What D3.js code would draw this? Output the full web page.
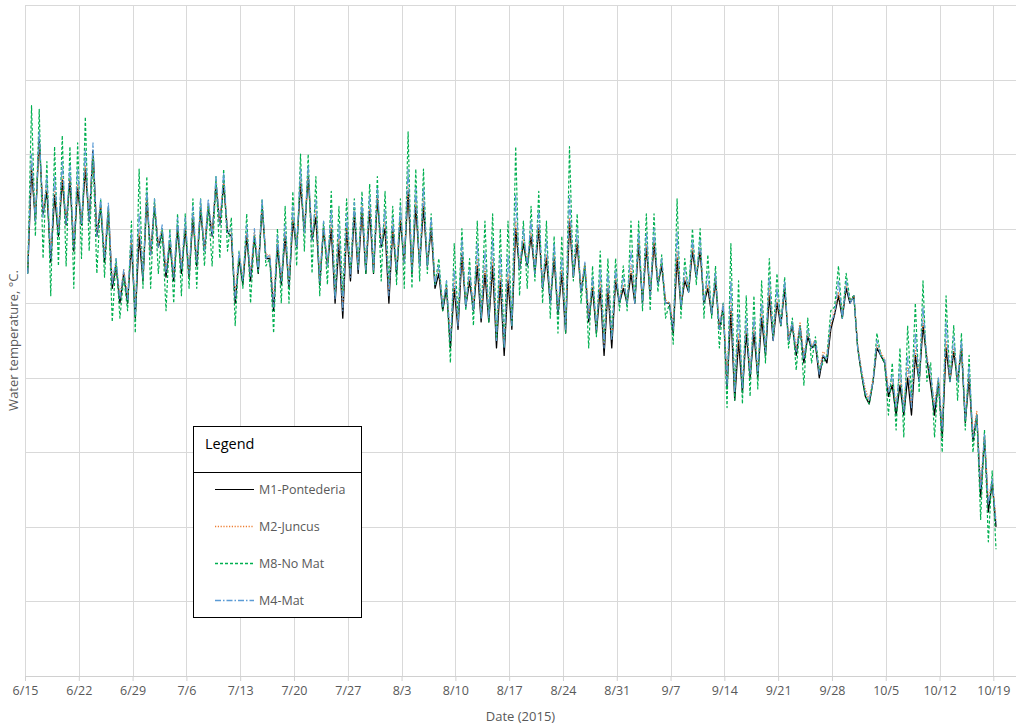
<!DOCTYPE html>
<html>
<head>
<meta charset="utf-8">
<script src="https://cdn.jsdelivr.net/npm/d3@7"></script>
<style>
  body { margin: 0; background: #fff; }
  text { font-family: "Open Sans", "Liberation Sans", sans-serif; }
</style>
</head>
<body>
<script>
// daily low / high readings, one value per day from 6/15/2015
var m1Low = [22.8,24.2,24.4,23.1,23.8,24.1,23.4,24.1,24.2,23.8,
  23.1,22.4,22.0,22.0,21.6,22.6,23.3,23.5,22.7,22.6,
  22.8,22.7,23.0,23.4,23.8,24.1,23.9,22.0,22.5,22.6,
  22.8,23.2,21.8,22.5,22.4,23.5,23.9,23.7,22.5,23.0,
  22.0,21.6,22.6,22.8,22.8,22.8,23.5,22.0,22.8,23.1,
  22.8,23.0,23.0,22.4,21.8,20.8,21.3,21.9,21.8,21.5,
  21.5,20.8,20.6,21.3,22.9,23.0,22.8,22.4,22.0,21.7,
  21.2,22.7,22.3,21.5,21.2,20.6,20.8,22.0,22.0,22.0,
  22.0,22.2,22.5,22.0,21.2,21.9,22.3,22.7,22.0,21.7,
  21.3,19.7,19.4,19.6,20.0,20.0,20.6,21.0,21.4,21.0,
  20.6,20.4,20.8,20.0,20.4,21.7,21.6,22.0,20.8,19.5,
  19.9,20.6,19.5,19.0,19.0,19.0,19.9,20.5,19.0,18.4,
  19.9,19.9,18.8,18.3,16.8,16.4,16.0];
var m1High = [25.6,26.4,25.0,24.9,25.3,25.3,25.1,25.6,26.1,24.6,
  24.5,23.0,22.8,23.6,23.8,24.8,24.6,23.9,23.6,24.0,
  24.0,24.3,24.5,24.6,25.2,25.2,23.8,23.2,23.8,23.8,
  24.6,23.2,23.5,23.8,24.2,25.2,25.4,24.3,24.0,24.0,
  23.6,24.0,24.4,24.5,24.5,24.8,24.0,24.0,24.2,25.0,
  24.6,24.6,24.0,22.8,22.4,22.4,23.3,22.6,23.0,22.8,
  23.0,22.6,22.6,24.0,23.6,23.8,24.0,23.2,23.2,22.8,
  24.2,23.6,23.0,22.4,22.4,22.4,22.6,22.4,22.8,23.6,
  23.5,23.6,23.0,22.0,23.2,22.6,23.4,23.4,22.4,22.6,
  21.9,21.8,21.0,21.2,21.2,21.6,22.2,22.0,22.4,21.4,
  21.4,21.1,20.9,20.6,21.3,22.2,22.4,22.2,20.1,19.3,
  20.8,20.4,19.8,19.8,20.0,20.6,21.4,19.8,19.9,20.8,
  20.7,20.8,20.0,19.0,18.4,17.2];

var m2Low = [23.0,24.3,24.5,23.3,24.0,24.2,23.6,24.2,24.3,23.9,
  23.3,22.6,22.2,22.2,21.9,22.8,23.4,23.6,22.9,22.8,
  23.0,22.9,23.2,23.5,23.9,24.2,24.0,22.3,22.7,22.8,
  23.0,23.3,22.1,22.7,22.6,23.6,24.0,23.8,22.7,23.1,
  22.3,21.9,22.8,23.0,23.0,23.0,23.6,22.3,23.0,23.2,
  23.0,23.1,23.1,22.6,22.0,21.1,21.5,22.0,22.0,21.7,
  21.7,21.1,20.9,21.6,23.0,23.1,22.9,22.5,22.2,21.9,
  21.5,22.8,22.4,21.7,21.4,20.9,21.1,22.1,22.1,22.1,
  22.1,22.3,22.6,22.1,21.5,22.0,22.4,22.8,22.1,21.8,
  21.4,20.0,19.7,19.9,20.2,20.2,20.8,21.1,21.5,21.1,
  20.8,20.6,20.9,20.2,20.6,21.8,21.7,22.1,20.9,19.7,
  20.0,20.7,19.7,19.3,19.3,19.3,20.0,20.6,19.3,18.7,
  20.0,20.0,19.0,18.5,17.1,16.7,16.2];
var m2High = [25.8,26.3,25.2,25.1,25.4,25.4,25.2,25.7,26.0,24.7,
  24.6,23.1,22.9,23.7,24.0,24.9,24.7,24.0,23.7,24.1,
  24.1,24.4,24.6,24.7,25.3,25.3,23.9,23.3,23.9,23.9,
  24.7,23.3,23.6,23.9,24.3,25.3,25.5,24.5,24.1,24.2,
  23.8,24.1,24.5,24.6,24.6,24.9,24.2,24.1,24.3,25.2,
  24.8,24.8,24.1,22.9,22.5,22.6,23.4,22.7,23.2,23.0,
  23.2,22.8,22.8,24.2,23.7,23.9,24.1,23.3,23.3,22.9,
  24.3,23.7,23.1,22.5,22.6,22.5,22.7,22.5,23.0,23.7,
  23.6,23.7,23.1,22.0,23.4,22.7,23.5,23.5,22.5,22.7,
  22.0,22.0,21.2,21.4,21.4,21.8,22.4,22.1,22.5,21.5,
  21.5,21.2,21.0,20.7,21.4,22.3,22.5,22.2,20.2,19.4,
  20.9,20.5,19.9,20.0,20.3,20.8,21.6,20.0,20.0,21.0,
  20.8,20.9,20.1,19.1,18.5,17.3];

var m8Low = [22.8,23.8,23.2,22.2,23.0,23.0,22.4,23.2,23.4,22.8,
  22.7,21.5,21.6,21.8,21.2,22.4,22.4,22.8,21.8,22.0,
  22.2,22.4,22.4,23.0,23.0,23.2,23.4,21.4,22.4,22.0,
  22.8,23.0,21.2,22.0,22.0,23.0,23.4,22.8,22.2,22.5,
  22.2,22.2,22.8,23.0,22.8,22.8,22.6,22.5,22.5,22.4,
  22.4,22.6,22.8,22.5,21.8,20.4,21.6,21.8,21.4,21.6,
  21.5,21.0,20.8,21.4,22.2,22.4,22.6,22.0,21.6,21.2,
  21.2,22.6,22.0,20.8,21.1,21.0,21.1,21.8,21.8,22.0,
  21.8,21.8,22.3,21.6,20.9,21.6,22.3,22.5,21.6,21.6,
  20.8,19.2,19.4,19.3,19.5,19.7,20.4,21.1,21.4,20.8,
  20.2,19.8,20.4,20.2,20.6,21.9,21.6,22.1,20.8,19.5,
  19.9,20.6,19.0,18.6,18.4,19.5,19.6,19.9,18.4,18.0,
  19.9,19.4,18.6,18.0,16.2,15.6,15.4];
var m8High = [27.3,27.2,25.8,26.2,26.5,26.2,26.3,27.0,26.0,24.8,
  24.6,23.2,22.7,24.2,25.6,25.4,24.8,24.0,24.0,24.4,
  24.4,24.8,24.8,24.6,25.4,25.6,24.3,23.4,24.4,23.8,
  24.8,23.2,24.0,24.6,25.0,26.0,26.0,25.4,24.2,25.0,
  24.6,24.8,24.8,25.0,25.2,25.4,25.0,24.6,24.8,26.6,
  25.6,25.6,24.4,23.2,22.6,23.6,24.0,23.2,24.2,24.2,
  24.4,24.0,24.2,26.2,24.2,24.6,25.0,24.2,23.8,23.8,
  26.2,24.4,23.0,23.0,23.4,23.2,23.2,23.0,24.2,24.2,
  24.4,24.4,23.3,22.0,24.8,23.2,24.0,24.0,23.3,23.0,
  22.0,23.6,22.6,22.2,22.2,22.6,23.2,22.8,22.7,21.6,
  21.4,21.6,21.1,20.4,21.8,23.0,22.8,22.2,20.1,19.3,
  21.2,20.4,20.4,20.8,21.4,22.0,22.6,20.4,20.0,22.2,
  21.4,21.2,20.6,19.0,18.6,17.5];

var m4Low = [22.8,24.2,24.3,23.2,23.9,24.1,23.5,24.1,24.2,23.8,
  23.2,22.5,22.1,22.1,21.7,22.7,23.3,23.5,22.8,22.7,
  22.9,22.8,23.1,23.4,23.8,24.1,23.9,22.1,22.6,22.7,
  22.9,23.2,21.9,22.6,22.5,23.5,23.9,23.7,22.6,23.0,
  22.1,21.8,22.7,22.9,22.9,22.9,23.5,22.2,22.9,23.1,
  22.9,23.0,23.0,22.5,21.9,21.0,21.4,21.9,21.8,21.6,
  21.6,21.0,20.8,21.4,22.9,23.0,22.8,22.4,22.0,21.8,
  21.3,22.7,22.3,21.6,21.3,20.8,21.0,22.0,22.0,22.0,
  22.0,22.2,22.5,22.0,21.3,21.9,22.3,22.7,22.0,21.7,
  21.3,19.8,19.6,19.7,20.1,20.1,20.7,21.0,21.4,21.0,
  20.7,20.5,20.8,20.1,20.5,21.7,21.6,22.0,20.8,19.6,
  19.9,20.6,19.6,19.2,19.1,19.2,19.9,20.5,19.2,18.6,
  19.9,19.9,18.9,18.4,17.0,16.6,16.1];
var m4High = [26.0,26.6,25.4,25.4,25.8,25.7,25.6,26.1,26.3,24.8,
  24.7,23.2,22.9,23.9,24.4,25.0,24.8,24.1,23.9,24.3,
  24.3,24.6,24.8,24.8,25.4,25.5,24.0,23.4,24.1,24.0,
  24.8,23.3,23.8,24.1,24.6,25.6,25.7,24.8,24.2,24.5,
  24.1,24.4,24.7,24.8,24.9,25.1,24.5,24.3,24.6,25.6,
  25.1,25.1,24.3,23.0,22.6,22.9,23.7,22.9,23.6,23.4,
  23.7,23.3,23.3,24.9,24.0,24.2,24.5,23.7,23.6,23.2,
  24.9,24.0,23.1,22.7,22.9,22.8,22.9,22.7,23.4,23.9,
  23.9,24.0,23.2,22.0,23.9,22.9,23.7,23.7,22.8,22.8,
  22.0,22.6,21.7,21.6,21.6,22.0,22.7,22.4,22.6,21.5,
  21.4,21.3,21.0,20.6,21.5,22.6,22.6,22.2,20.2,19.4,
  21.0,20.5,20.1,20.3,20.6,21.2,21.9,20.1,20.0,21.5,
  21.1,21.0,20.3,19.0,18.5,17.3];

var seriesNames = ['M1-Pontederia', 'M2-Juncus', 'M8-No Mat', 'M4-Mat'];
var yTicks = [12, 14, 16, 18, 20, 22, 24, 26, 28, 30];

var chartWidth = 1018, chartHeight = 727;
var plotLeft = 25, plotRight = 1016, plotTop = 5, plotBottom = 676;
var startDate = new Date(2015, 5, 15);

var dayToDate = function(d) {
  return new Date(startDate.getTime() + d * 86400000);
};

var buildSeries = function(lows, highs) {
  var pts = [];
  for(var d = 0; d < lows.length; d++) {
    pts.push({t: dayToDate(d + 0.35), v: lows[d]});
    if(d < highs.length) {
      pts.push({t: dayToDate(d + 0.85), v: highs[d]});
    }
  }
  return pts;
};

var series = [
  {name: seriesNames[0], pts: buildSeries(m1Low, m1High), color: '#000000', dash: null, w: 1.3, lw: 1.2},
  {name: seriesNames[1], pts: buildSeries(m2Low, m2High), color: '#ED7D31', dash: '1.2,1.6', w: 1.2, lw: 1.4},
  {name: seriesNames[2], pts: buildSeries(m8Low, m8High), color: '#00B050', dash: '3,2', w: 1.2, lw: 1.5},
  {name: seriesNames[3], pts: buildSeries(m4Low, m4High), color: '#5B9BD5', dash: '6,2,1.5,2', w: 1.2, lw: 1.5}
];

var x = d3.scaleTime()
  .domain([startDate, dayToDate(128.95)])
  .range([plotLeft, plotRight]);
var y = d3.scaleLinear()
  .domain([12, 30])
  .range([plotBottom, plotTop]);

var xTicks = d3.timeMonday.range(startDate, dayToDate(128));
var fmt = d3.timeFormat('%-m/%-d');

var svg = d3.select('body').append('svg')
  .attr('width', chartWidth)
  .attr('height', chartHeight);

// gridlines
svg.append('g').selectAll('line')
  .data(yTicks.slice(1))
  .enter().append('line')
  .attr('x1', plotLeft).attr('x2', plotRight)
  .attr('y1', function(d) { return Math.round(y(d)) + 0.5; })
  .attr('y2', function(d) { return Math.round(y(d)) + 0.5; })
  .style('stroke', '#d9d9d9').style('stroke-width', 1);

svg.append('g').selectAll('line')
  .data(xTicks)
  .enter().append('line')
  .attr('x1', function(d) { return Math.round(x(d)) + 0.5; })
  .attr('x2', function(d) { return Math.round(x(d)) + 0.5; })
  .attr('y1', plotTop).attr('y2', plotBottom)
  .style('stroke', '#d9d9d9').style('stroke-width', 1);

// x axis
var xAxis = svg.append('g')
  .attr('transform', 'translate(0,' + plotBottom + ')')
  .call(d3.axisBottom(x).tickValues(xTicks).tickFormat(fmt).tickSize(5).tickPadding(5));
xAxis.select('.domain').style('stroke', '#d0d0d0').attr('d', 'M' + plotLeft + ',0.5H' + plotRight);
xAxis.selectAll('.tick line').style('stroke', '#d0d0d0');
xAxis.selectAll('.tick text')
  .style('font-size', '12.5px')
  .style('fill', '#595959')
  .style('font-family', '"Open Sans", sans-serif');

// lines
var line = d3.line()
  .x(function(p) { return x(p.t); })
  .y(function(p) { return y(p.v); });

svg.append('g').selectAll('path')
  .data(series)
  .enter().append('path')
  .attr('d', function(s) { return line(s.pts); })
  .style('fill', 'none')
  .style('stroke', function(s) { return s.color; })
  .style('stroke-width', function(s) { return s.w; })
  .style('stroke-dasharray', function(s) { return s.dash; })
  .style('stroke-linejoin', 'round');

// axis titles
svg.append('text')
  .attr('x', (plotLeft + plotRight) / 2).attr('y', 721)
  .attr('text-anchor', 'middle')
  .style('font-size', '13px').style('fill', '#595959')
  .text('Date (2015)');

svg.append('text')
  .attr('transform', 'translate(18,' + ((plotTop + plotBottom) / 2) + ') rotate(-90)')
  .attr('text-anchor', 'middle')
  .style('font-size', '13px').style('fill', '#595959')
  .text('Water temperature, °C.');

// legend
var lg = svg.append('g');
lg.append('rect')
  .attr('x', 193.5).attr('y', 426.5).attr('width', 168).attr('height', 191)
  .style('fill', '#fff').style('stroke', '#000').style('stroke-width', 1);
lg.append('line')
  .attr('x1', 193.5).attr('x2', 361.5).attr('y1', 472.5).attr('y2', 472.5)
  .style('stroke', '#000').style('stroke-width', 1);
lg.append('text')
  .attr('x', 205).attr('y', 449)
  .style('font-size', '14.5px').style('fill', '#000')
  .text('Legend');

var items = lg.selectAll('g.item')
  .data(series)
  .enter().append('g')
  .attr('class', 'item')
  .attr('transform', function(s, i) { return 'translate(0,' + (489 + i * 37) + ')'; });
items.append('line')
  .attr('x1', 215).attr('x2', 254).attr('y1', 0.5).attr('y2', 0.5)
  .style('stroke', function(s) { return s.color; })
  .style('stroke-width', function(s) { return s.lw; })
  .style('stroke-dasharray', function(s) { return s.dash; });
items.append('text')
  .attr('x', 259).attr('y', 4.5)
  .style('font-size', '12.5px').style('fill', '#595959')
  .text(function(s) { return s.name; });
</script>
</body>
</html>
